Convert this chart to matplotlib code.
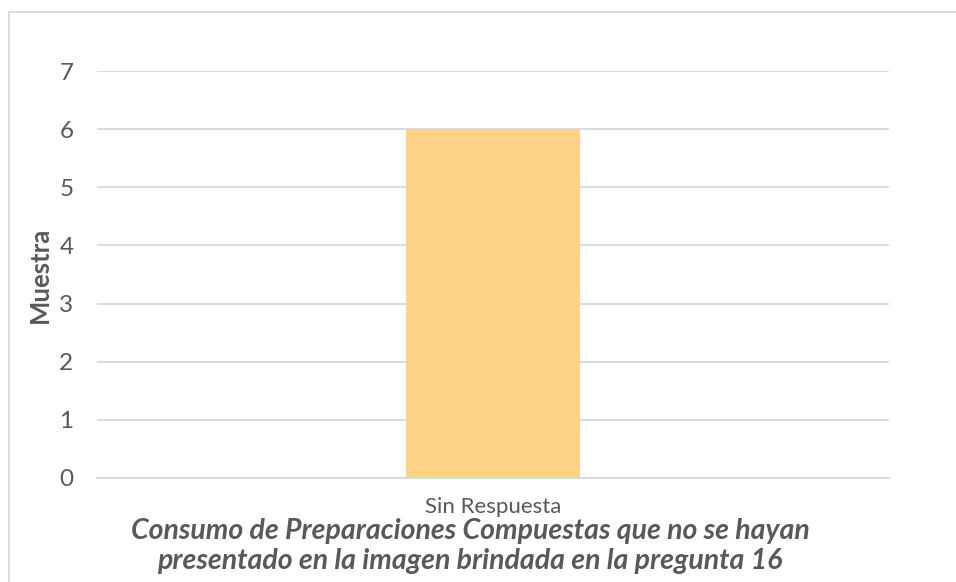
"""Bar chart: Consumo de Preparaciones Compuestas (pregunta 16)."""

import matplotlib.pyplot as plt
from matplotlib.patches import Rectangle

categories = ["Sin Respuesta"]
values = [6]
y_ticks = [0, 1, 2, 3, 4, 5, 6, 7]

TEXT = "#595959"
GRID = "#d9d9d9"
BAR = "#ffd28a"

plt.rcParams["font.family"] = ["Lato", "DejaVu Sans"]

fig = plt.figure(figsize=(9.56, 5.82), dpi=100)
ax = fig.add_axes([97 / 956, 1 - 478 / 582, 792 / 956, 407 / 582])

ax.bar(range(len(categories)), values, width=0.22, color=BAR, zorder=2)
ax.set_xlim(-0.5, len(categories) - 0.5)
ax.set_ylim(0, 7)
ax.set_yticks(y_ticks)
ax.set_xticks(range(len(categories)))
ax.set_xticklabels(categories)
ax.tick_params(axis="y", length=0, pad=17, labelsize=17.5, labelcolor=TEXT)
ax.tick_params(axis="x", length=0, pad=14, labelsize=16, labelcolor=TEXT)
ax.grid(axis="y", color=GRID, linewidth=1.3, zorder=0)
for side in ["top", "right", "left"]:
    ax.spines[side].set_visible(False)
ax.spines["bottom"].set_color(GRID)
ax.spines["bottom"].set_linewidth(1.3)

fig.text(40 / 956, 1 - 275 / 582, "Muestra", rotation=90, ha="center", va="center",
         fontsize=18.5, fontweight="bold", color=TEXT)
fig.text(
    470 / 956, 1 - 546 / 582,
    "Consumo de Preparaciones Compuestas que no se hayan\n"
    "presentado en la imagen brindada en la pregunta 16",
    ha="center", va="center", fontsize=20.5, fontweight="bold", fontstyle="italic",
    color=TEXT, linespacing=1.15,
)

# chart frame (only top and left edges fall inside the canvas)
fig.patches.append(Rectangle((9 / 956, -0.1), 1.2, 1 - 12 / 582 + 0.1,
                             transform=fig.transFigure, fill=False,
                             edgecolor=GRID, linewidth=1.3))

fig.savefig("out.png", dpi=100)
